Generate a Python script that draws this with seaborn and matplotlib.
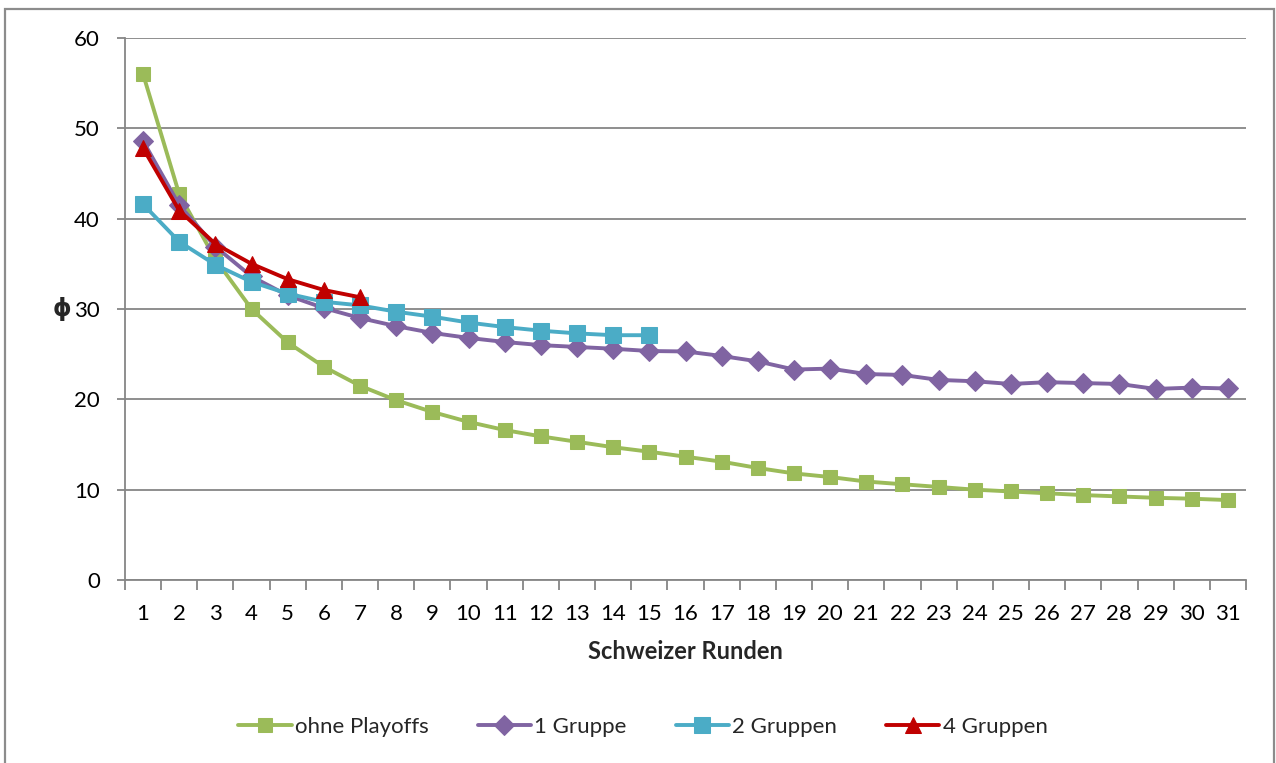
import matplotlib
matplotlib.use("Agg")
import matplotlib.pyplot as plt
from matplotlib.patches import Rectangle
import numpy as np
import pandas as pd
import seaborn as sns

# Average deviation per number of Swiss rounds, for each playoff variant
rounds = list(range(1, 32))
ohne_playoffs = [56.0, 42.7, 35.5, 30.0, 26.3, 23.6, 21.5, 19.9, 18.6, 17.5,
                 16.6, 15.9, 15.3, 14.7, 14.2, 13.65, 13.1, 12.4, 11.8, 11.4,
                 10.9, 10.6, 10.3, 10.0, 9.8, 9.6, 9.4, 9.25, 9.1, 9.0, 8.85]
eine_gruppe = [48.6, 41.5, 36.9, 33.6, 31.5, 30.1, 29.0, 28.1, 27.35, 26.8,
               26.35, 26.0, 25.8, 25.6, 25.35, 25.3, 24.8, 24.2, 23.3, 23.4,
               22.8, 22.7, 22.15, 22.0, 21.7, 21.9, 21.8, 21.7, 21.15, 21.3, 21.2]
zwei_gruppen = [41.6, 37.45, 34.9, 33.0, 31.7, 30.8, 30.4, 29.7, 29.15, 28.5,
                28.0, 27.6, 27.3, 27.1, 27.1]
vier_gruppen = [47.8, 40.9, 37.2, 35.0, 33.3, 32.1, 31.3]

series_names = ["ohne Playoffs", "1 Gruppe", "2 Gruppen", "4 Gruppen"]
series_values = [ohne_playoffs, eine_gruppe, zwei_gruppen, vier_gruppen]
colors = ["#9BBB59", "#8064A2", "#4BACC6", "#C00000"]
markers = ["s", "D", "s", "^"]
marker_sizes = [10, 10, 11, 11]

y_ticks = [0, 10, 20, 30, 40, 50, 60]

sns.set_theme(style="white")
plt.rcParams["font.family"] = ["Lato", "DejaVu Sans"]

W, H = 1276, 763
fig = plt.figure(figsize=(W / 100, H / 100), dpi=100)
ax = fig.add_axes([125 / W, 1 - 580 / H, (1246 - 125) / W, (580 - 38) / H])

frames = []
for name, vals in zip(series_names, series_values):
    frames.append(pd.DataFrame({"Runde": rounds[:len(vals)], "phi": vals, "Serie": name}))
df = pd.concat(frames, ignore_index=True)

grid_color = "#868686"
for i, name in enumerate(series_names):
    sns.lineplot(data=df[df["Serie"] == name], x="Runde", y="phi", ax=ax,
                 color=colors[i], marker=markers[i], markersize=marker_sizes[i],
                 markeredgecolor=colors[i], linewidth=2.8, label=name,
                 zorder=3 + i, clip_on=False)

ax.set_xlim(0.5, 31.5)
ax.set_ylim(0, 60)
ax.set_yticks(y_ticks)
ax.set_yticklabels([str(v) for v in y_ticks], fontsize=16)
ax.set_xticks(rounds)
ax.set_xticklabels([str(r) for r in rounds], fontsize=16)
ax.set_xticks(np.arange(0.5, 32, 1), minor=True)

ax.grid(axis="y", color=grid_color, linewidth=1.3)
ax.grid(axis="x", visible=False)
ax.set_axisbelow(True)

for side in ["top", "right"]:
    ax.spines[side].set_visible(False)
for side in ["left", "bottom"]:
    ax.spines[side].set_color(grid_color)
    ax.spines[side].set_linewidth(1.3)

ax.tick_params(axis="y", which="major", direction="out", length=6, width=1.3,
               color=grid_color, pad=12, labelcolor="black", left=True)
ax.tick_params(axis="x", which="major", length=0, pad=17, labelcolor="black")
ax.tick_params(axis="x", which="minor", direction="out", length=7, width=1.3,
               color=grid_color, bottom=True)

ax.set_xlabel("Schweizer Runden", fontsize=17, fontweight="bold", labelpad=12)
ax.set_ylabel("ϕ", fontsize=17, fontweight="bold", rotation=0,
              family=["DejaVu Sans"], labelpad=9, va="center")

leg = ax.legend(loc="center", bbox_to_anchor=((643 - 125) / (1246 - 125),
                                              (580 - 727) / (580 - 38)),
                ncol=4, frameon=False, fontsize=16, handlelength=2.4,
                handletextpad=0.15, columnspacing=2.2)

# Chart area frame
fig.patches.append(Rectangle((5 / W, -0.01), (1274 - 5) / W, 1 - 9 / H + 0.01,
                             transform=fig.transFigure, fill=False,
                             edgecolor="#8C8C8C", linewidth=1.6))

fig.savefig("out.png", dpi=100, facecolor="white")
